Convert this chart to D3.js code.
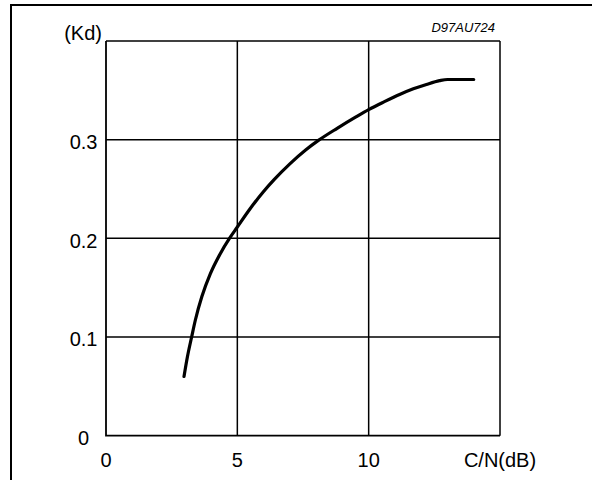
<!DOCTYPE html>
<html>
<head>
  <meta charset="UTF-8">
  <title>Kd vs C/N</title>
  <style>
    body { margin: 0; background: #fff; font-family: "Liberation Sans", Arial, sans-serif; }
    svg { display: block; }
  </style>
</head>
<body>
  <div id="chart"></div>
  <script src="https://cdn.jsdelivr.net/npm/d3@7"></script>
  <script>
    // values
    var cnDb = [2.97, 3.1, 3.26, 3.4, 3.65, 3.97, 4.35, 4.7, 5.0, 5.5, 6.0, 6.4, 7.0, 7.6,
      8.1, 8.8, 9.5, 10.0, 10.6, 11.2, 11.7, 12.2, 12.7, 13.0, 14.0];
    var kd = [0.06, 0.08, 0.1, 0.117, 0.141, 0.164, 0.1845, 0.2, 0.2115, 0.2305, 0.2475, 0.2595, 0.2755, 0.2895,
      0.2995, 0.3115, 0.3228, 0.3305, 0.3385, 0.346, 0.3515, 0.356, 0.3598, 0.361, 0.361];

    var xTicks = [0, 5, 10];
    var yTicks = [0, 0.1, 0.2, 0.3];
    var xGrid = [5, 10, 15];
    var yGrid = [0.1, 0.2, 0.3, 0.4];

    var width = 592, height = 480;
    // plot box (note: "top" is reserved on window, so use plot* names)
    var plotLeft = 106, plotRight = 500, plotTop = 41, plotBottom = 435.7;

    var svg = d3.select('#chart')
      .append('svg')
      .attr('width', width)
      .attr('height', height);

    var x = d3.scaleLinear().domain([0, 15]).range([plotLeft, plotRight]);
    var y = d3.scaleLinear().domain([0, 0.4]).range([plotBottom, plotTop]);

    // outer frame (cut off at right and bottom)
    svg.append('path')
      .attr('d', 'M11,' + height + 'V5H' + width)
      .attr('fill', 'none')
      .attr('stroke', '#000')
      .attr('stroke-width', 2);

    // grid
    svg.selectAll('.vgrid')
      .data(xGrid)
      .enter()
      .append('line')
      .attr('x1', d => x(d)).attr('x2', d => x(d))
      .attr('y1', y(0)).attr('y2', y(0.4))
      .attr('stroke', '#000')
      .attr('stroke-width', 1.5);

    svg.selectAll('.hgrid')
      .data(yGrid)
      .enter()
      .append('line')
      .attr('x1', x(0)).attr('x2', x(15))
      .attr('y1', d => y(d)).attr('y2', d => y(d))
      .attr('stroke', '#000')
      .attr('stroke-width', 1.5);

    // axes lines
    svg.append('path')
      .attr('d', 'M' + x(0) + ',' + y(0.4) + 'V' + y(0) + 'H' + x(15))
      .attr('fill', 'none')
      .attr('stroke', '#000')
      .attr('stroke-width', 1.8);

    // tick labels
    svg.selectAll('.xlab')
      .data(xTicks)
      .enter()
      .append('text')
      .attr('x', d => x(d))
      .attr('y', 467)
      .attr('text-anchor', 'middle')
      .attr('font-size', 20)
      .text(d => d);

    svg.selectAll('.ylab')
      .data(yTicks)
      .enter()
      .append('text')
      .attr('x', d => d === 0 ? 89 : 97.5)
      .attr('y', d => y(d) + 9.3)
      .attr('text-anchor', 'end')
      .attr('font-size', 20)
      .text(d => d === 0 ? '0' : d3.format('.1f')(d));

    svg.append('text')
      .attr('x', x(15))
      .attr('y', 467)
      .attr('text-anchor', 'middle')
      .attr('font-size', 20)
      .text('C/N(dB)');

    svg.append('text')
      .attr('x', 102)
      .attr('y', 39.5)
      .attr('text-anchor', 'end')
      .attr('font-size', 20)
      .text('(Kd)');

    svg.append('text')
      .attr('x', 495)
      .attr('y', 32)
      .attr('text-anchor', 'end')
      .attr('font-size', 13)
      .attr('font-style', 'italic')
      .text('D97AU724');

    // curve
    var line = d3.line()
      .x(d => x(d[0]))
      .y(d => y(d[1]))
      .curve(d3.curveMonotoneX);

    svg.append('path')
      .datum(d3.zip(cnDb, kd))
      .attr('d', line)
      .attr('fill', 'none')
      .attr('stroke', '#000')
      .attr('stroke-width', 3.2)
      .attr('stroke-linecap', 'round');
  </script>
</body>
</html>
